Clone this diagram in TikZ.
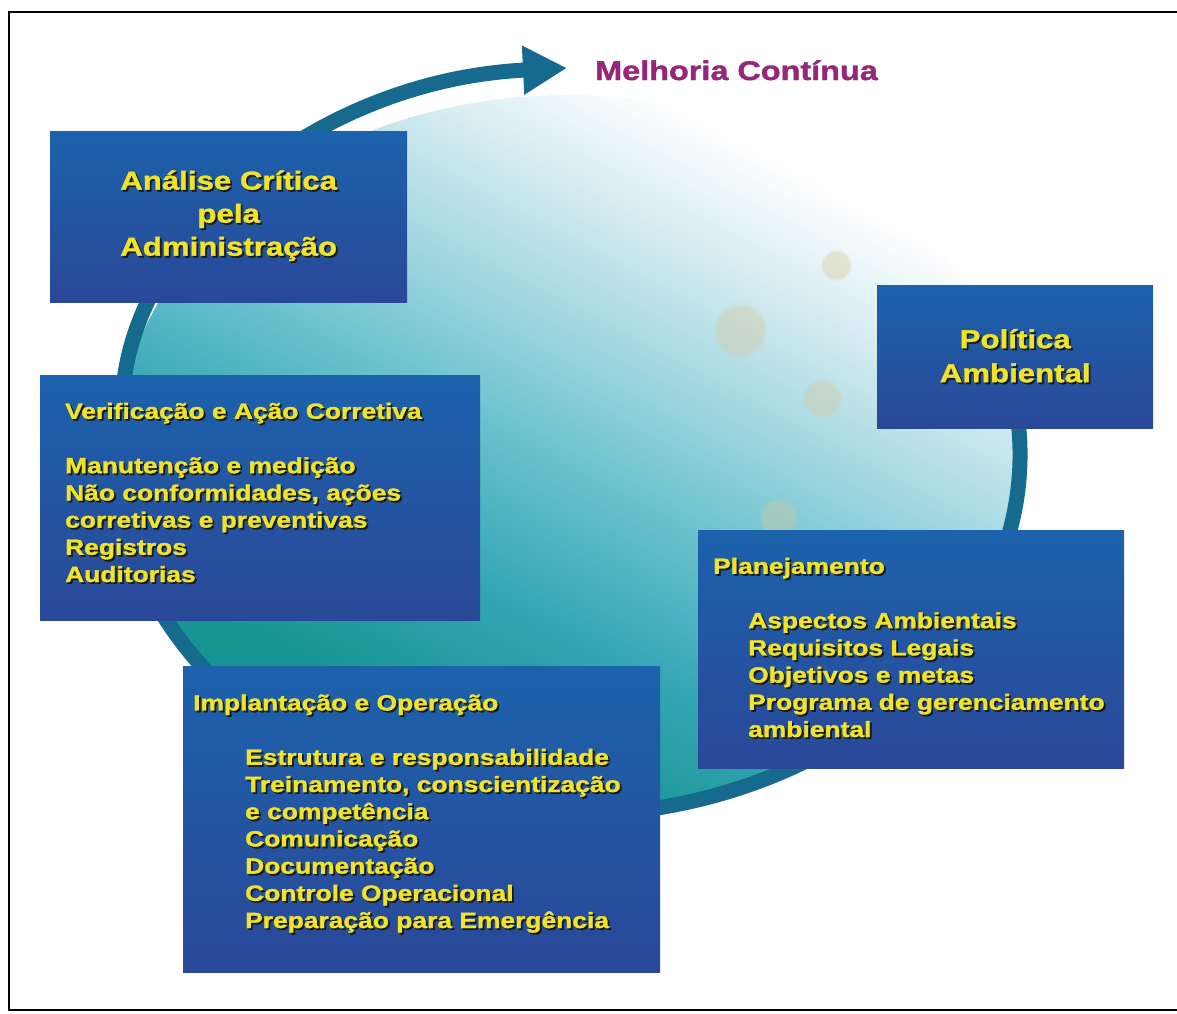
\documentclass[tikz,border=0pt]{standalone}
\usepackage{fontspec}
\usetikzlibrary{arrows.meta,fadings,calc}
\newfontfamily\bx[FakeStretch=1.2,FakeBold=1.5]{Liberation Sans}
\definecolor{boxtop}{RGB}{28,98,172}
\definecolor{boxbot}{RGB}{42,72,152}
\definecolor{txtyel}{RGB}{240,228,40}
\definecolor{txtsh}{RGB}{25,25,20}
\definecolor{ringc}{RGB}{22,106,142}
\definecolor{purp}{RGB}{150,38,120}
\definecolor{sphA}{RGB}{22,148,145}
\definecolor{sphB}{RGB}{52,166,180}
\definecolor{sphC}{RGB}{110,195,208}
\definecolor{sphD}{RGB}{172,219,228}
\definecolor{sphE}{RGB}{222,240,244}
\definecolor{spotc}{RGB}{215,200,155}
\pgfdeclareverticalshading{sph}{100bp}{color(0bp)=(sphA); color(30bp)=(sphA); color(40bp)=(sphB); color(50bp)=(sphC); color(59bp)=(sphD); color(67bp)=(sphE); color(73bp)=(white); color(100bp)=(white)}
\newcommand\shd[1]{\leavevmode\rlap{\kern1.8pt\raisebox{-1.8pt}{\textcolor{txtsh}{#1}}}#1}
\begin{document}
\begin{tikzpicture}[x=1pt,y=-1pt,
  frame/.style={draw=black,line width=1.6pt},
  panel/.style={rectangle,inner sep=0pt,top color=boxtop,bottom color=boxbot,draw=none},
  ttl/.style={text=txtyel,align=center,font=\bx\bfseries\fontsize{26}{33}\selectfont},
  bodytxt/.style={text=txtyel,align=left,inner sep=0pt,anchor=base west,font=\bx\bfseries\fontsize{22}{27.2}\selectfont},
  ringline/.style={draw=ringc,line width=15pt},
  spot/.style={fill=spotc,fill opacity=0.4,path fading=circle with fuzzy edge 20 percent}]
\useasboundingbox (0,0) rectangle (1177,1013);
\fill[white] (0,0) rectangle (1177,1013);
\draw[frame] (1180,12) -- (9,12) -- (9,1010) -- (1180,1010);

% sphere
\shade[shading=sph,shading angle=-28] (568,455) ellipse [x radius=452, y radius=360];
\fill[spot] (740,330) circle[radius=28];
\fill[spot] (822,398) circle[radius=20];
\fill[spot] (778,518) circle[radius=20];
\fill[spot] (836,265) circle[radius=16];

% ring and arrow
\coordinate (ringstart) at (977.6,302.9);
\coordinate (tip) at (567,68);
\draw[ringline,-{Triangle[length=44pt,width=46pt]}] (ringstart)
  arc[start angle=-25,end angle=190,x radius=452,y radius=360]
  .. controls (135,230) and (320,80) .. (tip);

% title
\node[anchor=base west,inner sep=0pt,text=purp,font=\bx\bfseries\fontsize{27}{32}\selectfont] (mc) at (595,80) {Melhoria Contínua};

% boxes
\node[panel,ttl,minimum width=357pt,minimum height=171pt,anchor=north west] (adm) at (50,131)
  {\shd{Análise Crítica}\\\shd{pela}\\\shd{Administração}};
\node[panel,ttl,font=\bx\bfseries\fontsize{26}{34}\selectfont,minimum width=276pt,minimum height=143pt,anchor=north west] (pol) at (877,285)
  {\shd{Política}\\\shd{Ambiental}};

\node[panel,minimum width=440pt,minimum height=245pt,anchor=north west] (ver) at (40,375) {};
\node[bodytxt] (vertxt) at (65,582)
  {\shd{Verificação e Ação Corretiva}\\[27.2pt]
   \shd{Manutenção e medição}\\
   \shd{Não conformidades, ações}\\
   \shd{corretivas e preventivas}\\
   \shd{Registros}\\
   \shd{Auditorias}};

\node[panel,minimum width=426pt,minimum height=238pt,anchor=north west] (pla) at (698,530) {};
\node[bodytxt] (platxt) at (713,737)
  {\shd{Planejamento}\\[27.2pt]
   \hspace*{35pt}\shd{Aspectos Ambientais}\\
   \hspace*{35pt}\shd{Requisitos Legais}\\
   \hspace*{35pt}\shd{Objetivos e metas}\\
   \hspace*{35pt}\shd{Programa de gerenciamento}\\
   \hspace*{35pt}\shd{ambiental}};

\node[panel,minimum width=477pt,minimum height=306pt,anchor=north west] (imp) at (183,666) {};
\node[bodytxt] (imptxt) at (193,928)
  {\shd{Implantação e Operação}\\[27.2pt]
   \hspace*{52pt}\shd{Estrutura e responsabilidade}\\
   \hspace*{52pt}\shd{Treinamento, conscientização}\\
   \hspace*{52pt}\shd{e competência}\\
   \hspace*{52pt}\shd{Comunicação}\\
   \hspace*{52pt}\shd{Documentação}\\
   \hspace*{52pt}\shd{Controle Operacional}\\
   \hspace*{52pt}\shd{Preparação para Emergência}};
\end{tikzpicture}
\end{document}
